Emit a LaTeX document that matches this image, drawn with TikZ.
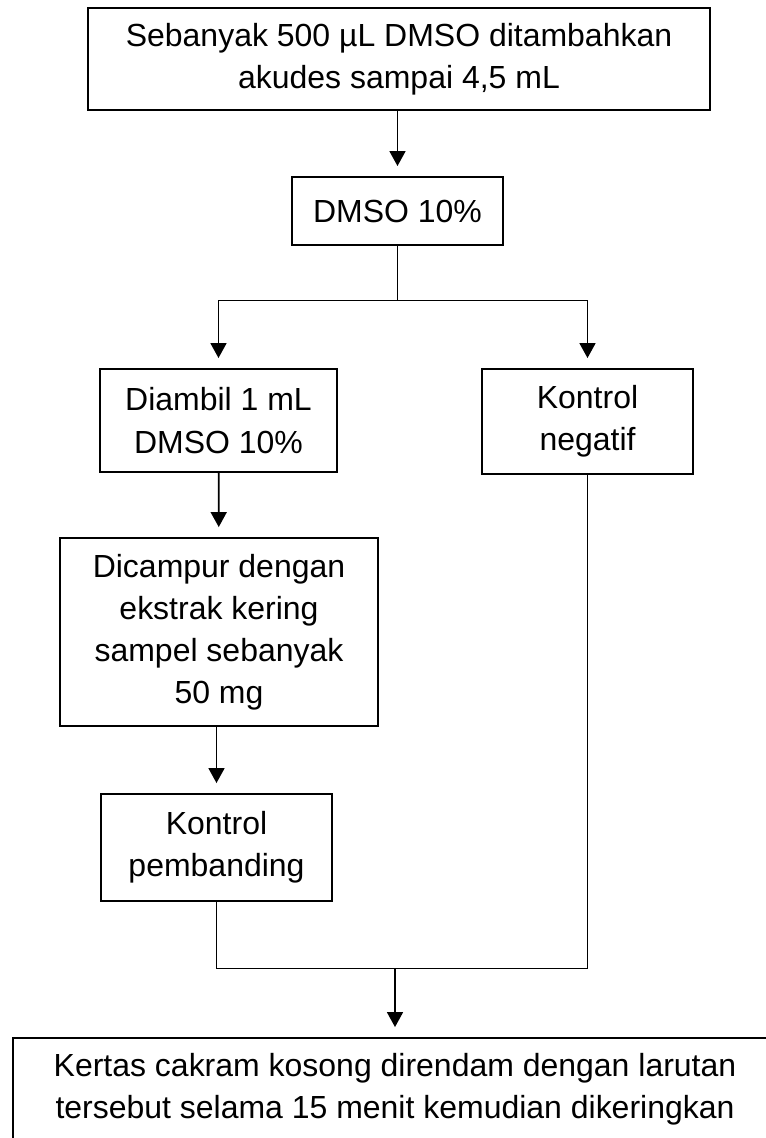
\documentclass[tikz,border=0pt]{standalone}
\usepackage{fontspec}
\setmainfont{Liberation Sans}
\usetikzlibrary{arrows.meta}
\usetikzlibrary{positioning}

\begin{document}
\begin{tikzpicture}[
	x=0.02cm, y=-0.02cm,
	font=\fontsize{18.2}{24}\selectfont
]
\tikzset{
    stepbox/.style = {rectangle, draw=black, line width=1.1pt, align=center, inner sep=0pt},
		flowarrow/.style = {line width=1pt, -{Triangle[width=0.32cm,length=0.3cm]}, shorten >=0.2cm},
		joinline/.style = {line width=0.5pt}
}
\useasboundingbox (0,0) rectangle (766,1138);
\clip (0,0) rectangle (766,1138);
\node[stepbox, minimum width=12.44cm, minimum height=2.04cm] (awal) at (399,59) {Sebanyak 500 µL DMSO ditambahkan\\akudes sampai 4,5 mL};
\node[stepbox, minimum width=4.22cm, minimum height=1.36cm] (dmso) at (397.5,211) {DMSO 10\%};
\node[stepbox, minimum width=4.74cm, minimum height=2.06cm] (diambil) at (218.5,420.5) {Diambil 1 mL\\DMSO 10\%};
\node[stepbox, minimum width=4.22cm, minimum height=2.10cm] (negatif) at (587.5,421.5) {Kontrol\\negatif};
\node[stepbox, minimum width=6.36cm, minimum height=3.76cm] (dicampur) at (219,632) {Dicampur dengan\\ekstrak kering\\sampel sebanyak\\50 mg};
\node[stepbox, minimum width=4.62cm, minimum height=2.14cm] (pembanding) at (216.5,847.5) {Kontrol\\pembanding};
\node[stepbox, minimum width=15.28cm, minimum height=2.04cm] (kertas) at (395,1089) {Kertas cakram kosong direndam dengan larutan\\tersebut selama 15 menit kemudian dikeringkan};
\coordinate (cabang) at (397.5,300);
\coordinate (gabung) at (395,968);
% alur atas
\draw[flowarrow] (dmso.north |- awal.south) -- (dmso.north);
\draw[joinline] (dmso.south) -- (cabang);
\draw[joinline] (diambil.north |- cabang) -- (negatif.north |- cabang);
\draw[flowarrow] (diambil.north |- cabang) -- (diambil.north);
\draw[flowarrow] (negatif.north |- cabang) -- (negatif.north);
% kolom kiri
\draw[flowarrow] (diambil) -- (dicampur);
\draw[flowarrow] (pembanding.north |- dicampur.south) -- (pembanding.north);
% gabungan
\draw[joinline] (pembanding.south) |- (gabung) -| (negatif.south);
\draw[flowarrow] (gabung) -- (kertas);
\end{tikzpicture}
\end{document}
